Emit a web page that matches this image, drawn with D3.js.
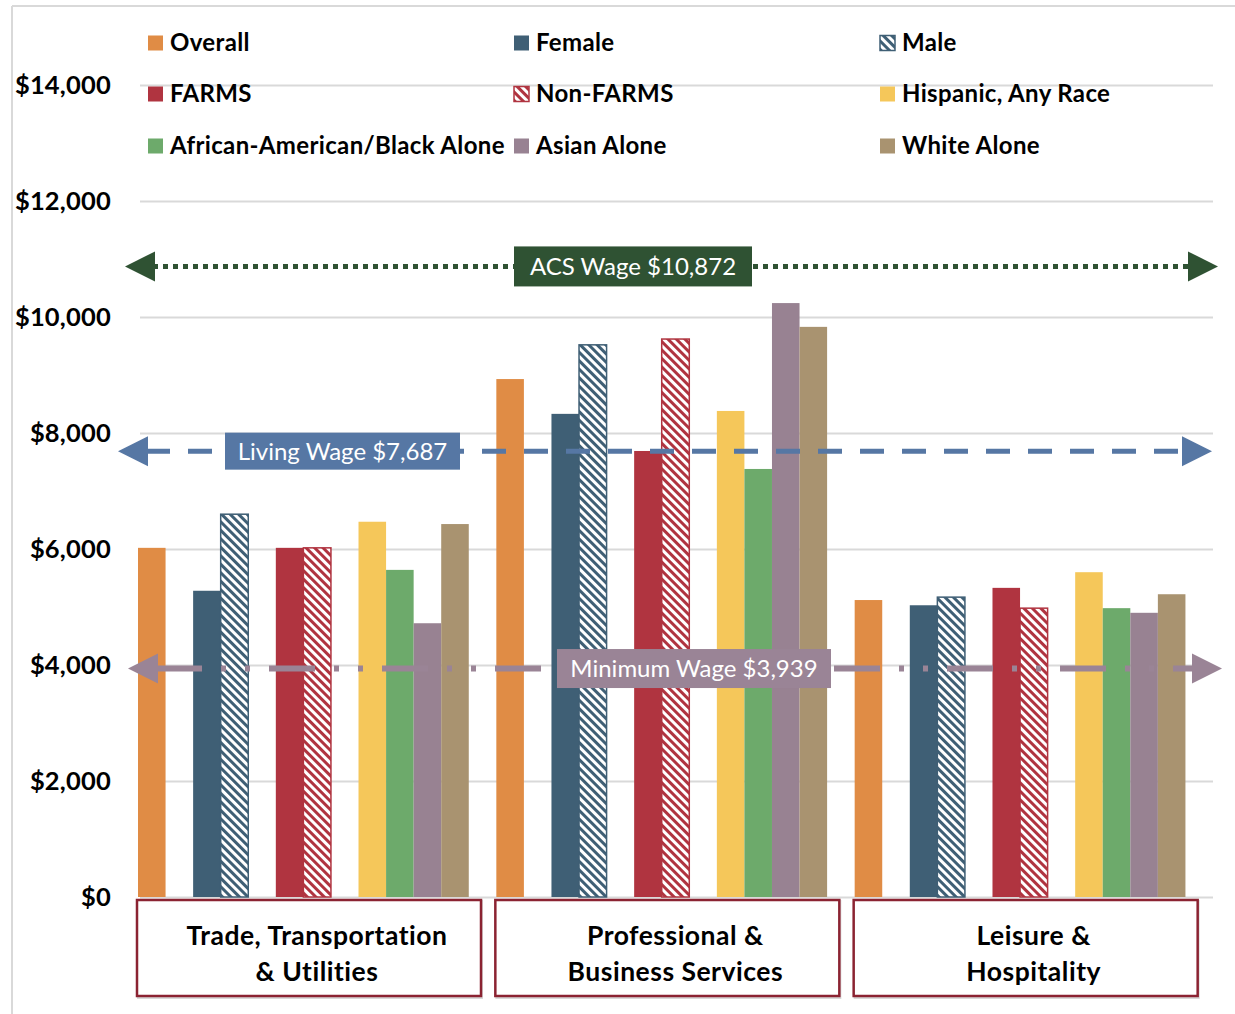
<!DOCTYPE html>
<html>
<head>
<meta charset="utf-8">
<script src="https://cdn.jsdelivr.net/npm/d3@7"></script>
<style>
  html, body { margin: 0; padding: 0; background: #fff; }
  svg { display: block; font-family: Lato, "Open Sans", sans-serif; }
</style>
</head>
<body>
<svg id="chart" width="1235" height="1014"></svg>
<script>
// Industry groups along the x axis
const categories = ["Trade, Transportation & Utilities", "Professional & Business Services", "Leisure & Hospitality"];
const categoryLines = [["Trade, Transportation", "& Utilities"], ["Professional &", "Business Services"], ["Leisure &", "Hospitality"]];

// Average monthly wage by group, one array per series (Trade, Professional, Leisure)
const overall  = [6020, 8930, 5120];
const female   = [5280, 8330, 5030];
const male     = [6600, 9520, 5170];
const farms    = [6020, 7690, 5330];
const nonFarms = [6020, 9620, 4980];
const hispanic = [6470, 8380, 5600];
const black    = [5640, 7380, 4980];
const asian    = [4720, 10240, 4900];
const white    = [6430, 9830, 5220];

// Reference wages
const refNames  = ["ACS Wage", "Living Wage", "Minimum Wage"];
const refValues = [10872, 7687, 3939];

const yTicks = [0, 2000, 4000, 6000, 8000, 10000, 12000, 14000];

const series = [
  { key: "Overall", label: "Overall", values: overall, color: "#e08c45" },
  { key: "Female", label: "Female", values: female, color: "#3f5f75" },
  { key: "Male", label: "Male", values: male, color: "#3f5f75", hatch: true },
  { key: "FARMS", label: "FARMS", values: farms, color: "#b03440" },
  { key: "Non-FARMS", label: "Non-FARMS", values: nonFarms, color: "#b03440", hatch: true },
  { key: "Hispanic", label: "Hispanic, Any Race", values: hispanic, color: "#f5c75a" },
  { key: "Black", label: "African-American/Black Alone", values: black, color: "#6daa6b" },
  { key: "Asian", label: "Asian Alone", values: asian, color: "#988292" },
  { key: "White", label: "White Alone", values: white, color: "#a99370" }
];
// slot order inside each group; "gap" slots stay empty
const slots = ["Overall", "gap1", "Female", "Male", "gap2", "FARMS", "Non-FARMS", "gap3", "Hispanic", "Black", "Asian", "White", "gap4"];

const svg = d3.select("#chart");
const defs = svg.append("defs");

// diagonal hatch patterns
function hatch(id, color) {
  const p = defs.append("pattern")
    .attr("id", id).attr("patternUnits", "userSpaceOnUse")
    .attr("width", 6).attr("height", 6)
    .attr("patternTransform", "rotate(-45)");
  p.append("rect").attr("width", 6).attr("height", 6).attr("fill", "#fff");
  p.append("rect").attr("width", 3).attr("height", 6).attr("fill", color);
}
series.filter(s => s.hatch).forEach(s => hatch("hatch-" + s.key, s.color));
const fillOf = s => s.hatch ? `url(#hatch-${s.key})` : s.color;

// scales
const y = d3.scaleLinear().domain([0, 14000]).range([897, 85]);
const x0 = d3.scaleBand().domain(categories).range([138, 1213]).padding(0);
const x1 = d3.scaleBand().domain(slots).range([0, x0.bandwidth()]).padding(0);

// outer frame
svg.append("line").attr("x1", 12).attr("x2", 1235).attr("y1", 6).attr("y2", 6)
  .attr("stroke", "#d9d9d9").attr("stroke-width", 2);
svg.append("line").attr("x1", 12).attr("x2", 12).attr("y1", 6).attr("y2", 1014)
  .attr("stroke", "#d9d9d9").attr("stroke-width", 2);

// gridlines and y labels
const yAxis = d3.axisLeft(y).tickValues(yTicks)
  .tickSize(-(1213 - 140)).tickPadding(29)
  .tickFormat(d => "$" + d3.format(",")(d));
const gy = svg.append("g").attr("transform", "translate(140,0)").call(yAxis);
gy.select(".domain").remove();
gy.selectAll(".tick line").attr("stroke", "#d9d9d9").attr("stroke-width", 2);
gy.selectAll(".tick text").attr("fill", "#000").attr("font-size", 25.5)
  .attr("font-weight", 700).attr("letter-spacing", 0.2)
  .attr("font-family", "Lato, sans-serif");

// bars
const groups = svg.append("g").selectAll("g").data(categories).join("g")
  .attr("transform", d => `translate(${x0(d)},0)`);
groups.each(function (cat, ci) {
  d3.select(this).selectAll("rect").data(series).join("rect")
    .attr("x", s => x1(s.key))
    .attr("width", x1.bandwidth())
    .attr("y", s => y(s.values[ci]))
    .attr("height", s => y(0) - y(s.values[ci]))
    .attr("fill", fillOf)
    .attr("stroke", s => s.hatch ? s.color : "none")
    .attr("stroke-width", s => s.hatch ? 1.5 : 0);
});

// legend
const legendCols = [148, 514, 880], legendRows = [43, 94, 146];
const lg = svg.append("g").selectAll("g").data(series).join("g")
  .attr("transform", (d, i) => `translate(${legendCols[i % 3]},${legendRows[Math.floor(i / 3)]})`);
lg.append("rect").attr("x", 0).attr("y", -7.5).attr("width", 15).attr("height", 15)
  .attr("fill", fillOf)
  .attr("stroke", s => s.hatch ? s.color : "none").attr("stroke-width", 1.5);
lg.append("text").attr("x", 22).attr("y", 0).attr("dy", "0.35em")
  .attr("font-size", 24).attr("font-weight", 700).attr("letter-spacing", 0.35)
  .attr("fill", "#000")
  .text(d => d.label);

// reference lines with arrowheads and labels
const refStyles = [
  { color: "#2f5233", dash: "5,5", width: 5, x1: 125, x2: 1218, boxX: 514, boxW: 238, boxH: 40 },
  { color: "#5677a4", dash: "24,18", width: 5, x1: 118, x2: 1212, boxX: 225, boxW: 235, boxH: 37 },
  { color: "#9a8496", dash: "46,19,5,19,5,19", width: 6, x1: 128, x2: 1222, boxX: 557, boxW: 274, boxH: 39 }
];
refValues.forEach((v, i) => {
  const st = refStyles[i], yy = y(v);
  const g = svg.append("g");
  g.append("line").attr("x1", st.x1 + 28).attr("x2", st.x2 - 28)
    .attr("y1", yy).attr("y2", yy)
    .attr("stroke", st.color).attr("stroke-width", st.width)
    .attr("stroke-dasharray", st.dash);
  g.append("path")
    .attr("d", `M${st.x1},${yy}L${st.x1 + 30},${yy - 15}L${st.x1 + 30},${yy + 15}Z`)
    .attr("fill", st.color);
  g.append("path")
    .attr("d", `M${st.x2},${yy}L${st.x2 - 30},${yy - 15}L${st.x2 - 30},${yy + 15}Z`)
    .attr("fill", st.color);
  g.append("rect").attr("x", st.boxX).attr("y", yy - st.boxH / 2)
    .attr("width", st.boxW).attr("height", st.boxH).attr("fill", st.color);
  g.append("text").attr("x", st.boxX + st.boxW / 2).attr("y", yy).attr("dy", "0.35em")
    .attr("text-anchor", "middle").attr("font-size", 24).attr("fill", "#fff")
    .text(`${refNames[i]} $${d3.format(",")(v)}`);
});

// category label boxes
const cb = svg.append("g").selectAll("g").data(categories).join("g")
  .attr("transform", d => `translate(${x0(d) - 1},900)`);
cb.append("rect").attr("x", 1).attr("y", 1).attr("width", 344).attr("height", 97)
  .attr("fill", "none").attr("stroke", "#d9d9d9").attr("stroke-width", 2);
cb.append("rect").attr("x", 0).attr("y", 0).attr("width", 344).attr("height", 96)
  .attr("fill", "#fff").attr("stroke", "#8b2332").attr("stroke-width", 2.5);
cb.each(function (d, i) {
  const t = d3.select(this).append("text").attr("text-anchor", "middle")
    .attr("font-size", 26.5).attr("font-weight", 700).attr("letter-spacing", 0.5)
    .attr("fill", "#000");
  categoryLines[i].forEach((line, k) => {
    t.append("tspan").attr("x", 180).attr("y", 36 + k * 36).attr("dy", "0.35em").text(line);
  });
});
</script>
</body>
</html>
